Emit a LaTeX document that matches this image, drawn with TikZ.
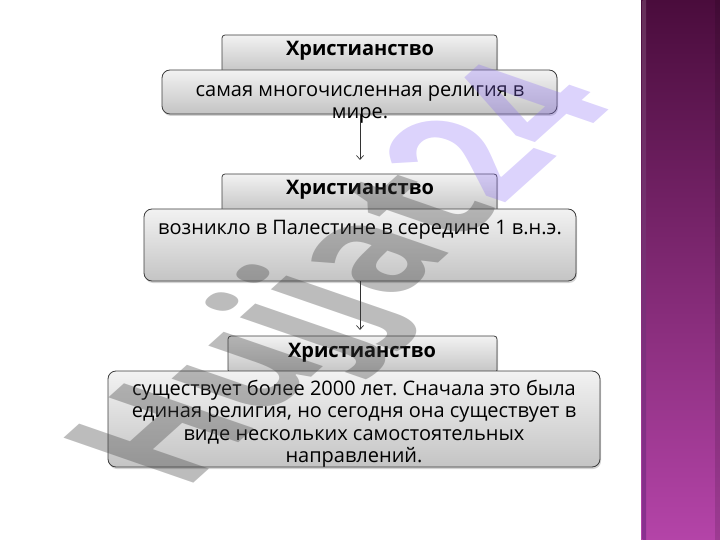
\documentclass[tikz,border=0pt]{standalone}
\usepackage{fontspec}
\setmainfont{Open Sans}
\usetikzlibrary{arrows.meta,shadows}
\frenchspacing
\definecolor{boxtop}{HTML}{F2F2F2}
\definecolor{boxbot}{HTML}{C4C4C4}
\definecolor{boxline}{HTML}{3C3C3C}
\definecolor{striptop}{HTML}{4A0C3C}
\definecolor{stripbot}{HTML}{B444A8}
\definecolor{stripedge}{HTML}{8A3090}
\definecolor{wmgrey}{HTML}{404040}
\definecolor{wmlav}{HTML}{8A6CF4}
\begin{document}
\begin{tikzpicture}[x=1pt,y=-1pt,
  boxbase/.style={draw=boxline, line width=0.8pt, top color=boxtop, bottom color=boxbot,
    drop shadow={shadow xshift=1pt, shadow yshift=-2pt, opacity=0.35}, inner sep=0pt},
  hdr/.style={boxbase, rounded corners=3pt},
  hdrtext/.style={font=\bfseries\fontsize{20}{22}\selectfont, inner sep=0pt},
  body/.style={boxbase, rounded corners=8pt},
  bodytext/.style={align=center, font=\fontsize{20}{22.5}\selectfont, inner sep=0pt},
  arr/.style={draw=black!80, line width=0.7pt, -{Straight Barb[length=4pt,width=7pt]}}
]
\useasboundingbox (0,0) rectangle (720,540);
% right decorative strip
\shade[top color=striptop, bottom color=stripbot] (641,0) rectangle (720,540);
\shade[top color=striptop!85!white, bottom color=stripedge] (642.5,0) rectangle (646,540);
\fill[black, opacity=0.12] (715,0) rectangle (720,540);

% boxes
\node[hdr, minimum width=275pt, minimum height=38pt] (h1) at (359.5,54) {};
\node[body, minimum width=395pt, minimum height=44pt] (b1) at (359.5,92) {};
\node[hdrtext] (h1t) at (360,51) {Христианство};
\node[bodytext] (t1) at (360,104.5) {самая многочисленная религия в\\мире.};

\node[hdr, minimum width=275pt, minimum height=38pt] (h2) at (359.5,193) {};
\node[body, minimum width=432pt, minimum height=72pt] (b2) at (360,245) {};
\node[hdrtext] (h2t) at (360,190) {Христианство};
\node[bodytext] (t2) at (360,230) {возникло в Палестине в середине 1 в.н.э.};

\node[hdr, minimum width=269pt, minimum height=37pt] (h3) at (362.5,354.5) {};
\node[body, minimum width=492pt, minimum height=96pt] (b3) at (354,419) {};
\node[hdrtext] (h3t) at (362,353) {Христианство};
\node[bodytext] (t3) at (354,423.5) {существует более 2000 лет. Сначала это была\\единая религия, но сегодня она существует в\\виде нескольких самостоятельных\\направлений.};

% connectors
\coordinate (e1) at (360,160);
\coordinate (e2) at (360,330);
\draw[arr] (b1.south -| e1) -- (e1);
\draw[arr] (b2.south -| e2) -- (e2);

% watermark
\begin{scope}[shift={(184,492)}, cm={0.468,0.421,-0.823,0.285,(0,0)}]
\node[transform shape, anchor=base west, inner sep=0pt,
  font=\bfseries\fontsize{221}{221}\selectfont] (wm) at (0,0)
  {\textcolor{wmgrey}{\pgfsetfillopacity{0.35}Hujjat}\textcolor{wmlav}{\pgfsetfillopacity{0.3}24}};
\end{scope}
\end{tikzpicture}
\end{document}
